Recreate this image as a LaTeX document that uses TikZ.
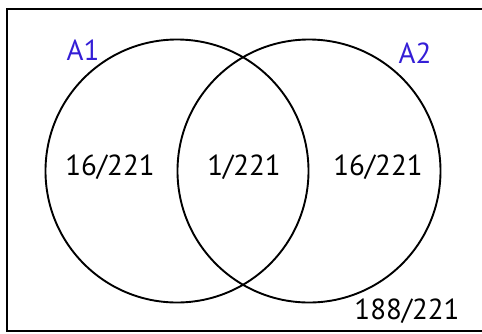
\documentclass[tikz,border=0pt]{standalone}
\usepackage{fontspec}
\setmainfont{PT Sans}
\definecolor{setblue}{RGB}{52,30,214}
\begin{document}
\begin{tikzpicture}[
        x=1pt, y=-1pt,
        set/.style={circle, draw, line width=1.9pt, minimum size=263pt, inner sep=0pt},
        frac/.style={font=\fontsize{29}{34}\selectfont},
        setname/.style={text=setblue, font=\fontsize{29}{34}\selectfont}
    ]
        \useasboundingbox (0,0) rectangle (482,333);
        % Universal set
        \draw[line width=1.6pt] (7,9) rectangle (490,331);

        % The two sets
        \node[set] (A1) at (177,171) {};
        \node[set] (A2) at (309,171) {};

        % Set names
        \node[setname] (nameA1) at (83,50) {A1};
        \node[setname] (nameA2) at (415,53) {A2};

        % Probabilities
        \node[frac] (onlyA1) at (110,167) {16/221};
        \node[frac] (both) at (244,167) {1/221};
        \node[frac] (onlyA2) at (378,167) {16/221};
        \node[frac] (none) at (407,311) {188/221};
    \end{tikzpicture}
\end{document}
